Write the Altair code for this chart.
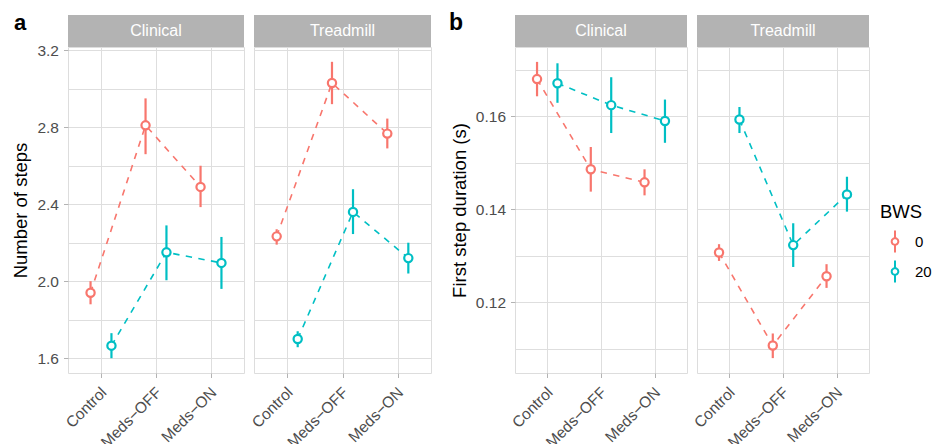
import json
import altair as alt
import pandas as pd

# ---------------- data ----------------
conditions = ["Control", "Meds\u2212OFF", "Meds\u2212ON"]
bws_levels = ["0", "20"]
facets = ["Clinical", "Treadmill"]

# Number of steps (panel a)
steps_clin_0_mean = [1.94, 2.81, 2.49]
steps_clin_0_lo = [1.88, 2.66, 2.385]
steps_clin_0_hi = [2.00, 2.95, 2.60]
steps_clin_20_mean = [1.665, 2.15, 2.095]
steps_clin_20_lo = [1.60, 2.005, 1.96]
steps_clin_20_hi = [1.73, 2.29, 2.23]
steps_tread_0_mean = [2.233, 3.03, 2.767]
steps_tread_0_lo = [2.19, 2.92, 2.69]
steps_tread_0_hi = [2.27, 3.14, 2.845]
steps_tread_20_mean = [1.70, 2.36, 2.12]
steps_tread_20_lo = [1.657, 2.245, 2.04]
steps_tread_20_hi = [1.74, 2.478, 2.20]

# First step duration (panel b)
dur_clin_0_mean = [0.1680, 0.1486, 0.1458]
dur_clin_0_lo = [0.1643, 0.1438, 0.1430]
dur_clin_0_hi = [0.1717, 0.1534, 0.1486]
dur_clin_20_mean = [0.1671, 0.1624, 0.1590]
dur_clin_20_lo = [0.1629, 0.1564, 0.1543]
dur_clin_20_hi = [0.1714, 0.1684, 0.1636]
dur_tread_0_mean = [0.1307, 0.1107, 0.1256]
dur_tread_0_lo = [0.1289, 0.1080, 0.1231]
dur_tread_0_hi = [0.1325, 0.1133, 0.1282]
dur_tread_20_mean = [0.1593, 0.1323, 0.1432]
dur_tread_20_lo = [0.1564, 0.1276, 0.1395]
dur_tread_20_hi = [0.1620, 0.1370, 0.1470]

steps_major = [1.6, 2.0, 2.4, 2.8, 3.2]
steps_all = [1.6, 1.8, 2.0, 2.2, 2.4, 2.6, 2.8, 3.0, 3.2]
dur_major = [0.12, 0.14, 0.16]
dur_all = [0.11, 0.12, 0.13, 0.14, 0.15, 0.16, 0.17]

DODGE = 0.19
FONT = "Liberation Sans"
GRID = "#DEDEDE"
BORDER = "#B3B3B3"
LABEL = "#4D4D4D"
H = 326
LABEL_SIZE = 15.5


def make_df(s0, s20):
    rows = []
    for bws, (m, lo, hi) in zip(bws_levels, [s0, s20]):
        for i, c in enumerate(conditions):
            rows.append(dict(cond=c, ci=i + 1, bws=bws, mean=m[i], lo=lo[i], hi=hi[i]))
    return pd.DataFrame(rows)


cscale = alt.Scale(domain=bws_levels, range=["#F8766D", "#00BFC4"])
legend_path = ("M0,-1L0,-0.3M0,0.3L0,1M0.3,0A0.3,0.3,0,1,1,-0.3,0"
               "A0.3,0.3,0,1,1,0.3,0Z")
legend = alt.Legend(
    title="BWS", orient="none", legendX=812, legendY=156, padding=0,
    symbolType=legend_path, symbolSize=484, symbolStrokeWidth=2,
    symbolFillColor="white", symbolDash=[1, 0], symbolOffset=3, labelOffset=8,
    rowPadding=0,
    titleFontSize=18.5, titleFontWeight="normal", titleColor="black",
    titlePadding=8, labelFontSize=15, labelColor="black", titleFont=FONT,
    labelFont=FONT,
)


def panel(df, facet, ydomain, yall, ymajor, fmt, width, show_y, ytitle="",
          titlex=0, tag=None, tagx=0, tagsize=22):
    major_js = json.dumps(ymajor)
    cond_js = json.dumps(conditions, ensure_ascii=False)
    xaxis = alt.Axis(
        values=[1, 2, 3], labelExpr=f"{cond_js}[datum.value - 1]",
        labelAngle=-45, labelAlign="right", labelBaseline="top",
        labelOffset=-2.5, labelPadding=7, labelOverlap=False, labelBound=False,
        title=None, grid=True,
        gridColor=GRID, domain=False, tickColor=BORDER, tickSize=4.5,
        labelFontSize=LABEL_SIZE, labelColor=LABEL, labelFont=FONT,
    )
    if show_y:
        yaxis = alt.Axis(
            values=yall, format=fmt, labelOverlap=False,
            labelExpr=f"indexof({major_js}, datum.value) >= 0 ? datum.label : ''",
            tickOpacity={"condition": {"test": f"indexof({major_js}, datum.value) >= 0",
                                       "value": 1}, "value": 0},
            grid=True, gridColor=GRID, domain=False, tickColor=BORDER,
            tickSize=4.5, labelPadding=5, labelFontSize=LABEL_SIZE, labelColor=LABEL,
            labelFont=FONT, title=ytitle, titleFontSize=18.5,
            titleFontWeight="normal", titleColor="black", titleFont=FONT,
            titleX=titlex, titleY=H / 2, titleBaseline="alphabetic",
        )
    else:
        yaxis = alt.Axis(values=yall, labels=False, ticks=False, domain=False,
                         title=None, grid=True, gridColor=GRID)

    base = alt.Chart(df).transform_calculate(
        xpos=f"datum.ci + (datum.bws == '0' ? {-DODGE} : {DODGE})"
    )
    x = alt.X("xpos:Q", scale=alt.Scale(domain=[0.4, 3.6], nice=False, zero=False),
              axis=xaxis)
    y = alt.Y("mean:Q", scale=alt.Scale(domain=ydomain, nice=False, zero=False),
              axis=yaxis)
    color = alt.Color("bws:N", scale=cscale, legend=legend, sort=bws_levels)

    line = base.mark_line(strokeDash=[6.4, 6.4], strokeWidth=1.6).encode(
        x=x, y=y, color=color, detail="bws:N", order="ci:Q")
    rule = base.mark_rule(strokeWidth=2.2).encode(
        x=x, y=alt.Y("lo:Q"), y2="hi:Q", color=color)
    point = base.mark_point(filled=False, fill="white", fillOpacity=1, size=68,
                            strokeWidth=2.2, opacity=1).encode(
        x=x, y=y, color=color)

    sdf = pd.DataFrame({"facet": [facet]})
    strip = alt.Chart(sdf).mark_rect(color=BORDER).encode(
        x=alt.value(0), x2=alt.value(width), y=alt.value(-32), y2=alt.value(0))
    stext = alt.Chart(sdf).mark_text(color="white", fontSize=16, font=FONT,
                                     baseline="middle").encode(
        text="facet:N", x=alt.value(width / 2), y=alt.value(-16))
    layers = [line, rule, point, strip, stext]
    if tag:
        tdf = pd.DataFrame({"tag": [tag]})
        layers.append(alt.Chart(tdf).mark_text(
            fontSize=tagsize, fontWeight="bold", font=FONT, align="left",
            baseline="alphabetic", color="black").encode(
            text="tag:N", x=alt.value(tagx), y=alt.value(-17)))
    return alt.layer(*layers).properties(width=width, height=H)


df_a_clin = make_df((steps_clin_0_mean, steps_clin_0_lo, steps_clin_0_hi),
                    (steps_clin_20_mean, steps_clin_20_lo, steps_clin_20_hi))
df_a_tread = make_df((steps_tread_0_mean, steps_tread_0_lo, steps_tread_0_hi),
                     (steps_tread_20_mean, steps_tread_20_lo, steps_tread_20_hi))
df_b_clin = make_df((dur_clin_0_mean, dur_clin_0_lo, dur_clin_0_hi),
                    (dur_clin_20_mean, dur_clin_20_lo, dur_clin_20_hi))
df_b_tread = make_df((dur_tread_0_mean, dur_tread_0_lo, dur_tread_0_hi),
                     (dur_tread_20_mean, dur_tread_20_lo, dur_tread_20_hi))

dom_a = [1.523, 3.217]
dom_b = [0.1048, 0.1749]

p1 = panel(df_a_clin, facets[0], dom_a, steps_all, steps_major, ".1f", 176, True,
           "Number of steps", -42, tag="a", tagx=-54)
p2 = panel(df_a_tread, facets[1], dom_a, steps_all, steps_major, ".1f", 177, False)
p3 = panel(df_b_clin, facets[0], dom_b, dur_all, dur_major, ".2f", 172, True,
           "First step duration (s)", -50, tag="b", tagx=-66, tagsize=23)
p4 = panel(df_b_tread, facets[1], dom_b, dur_all, dur_major, ".2f", 172, False)

spacer = alt.Chart(pd.DataFrame({"v": [0]})).mark_point(opacity=0).encode(
    x=alt.value(0), y=alt.value(0)).properties(
    width=64, height=H, view=alt.ViewBackground(strokeOpacity=0))

chart = alt.hconcat(p1, p2, spacer, p3, p4, spacing=10, bounds="flush").properties(
    padding={"left": 2, "top": 3, "right": 1, "bottom": 0}
).configure_view(stroke=BORDER, strokeWidth=1.2).configure(font=FONT)

chart.save("out.html", embed_options={"renderer": "svg", "actions": False})
